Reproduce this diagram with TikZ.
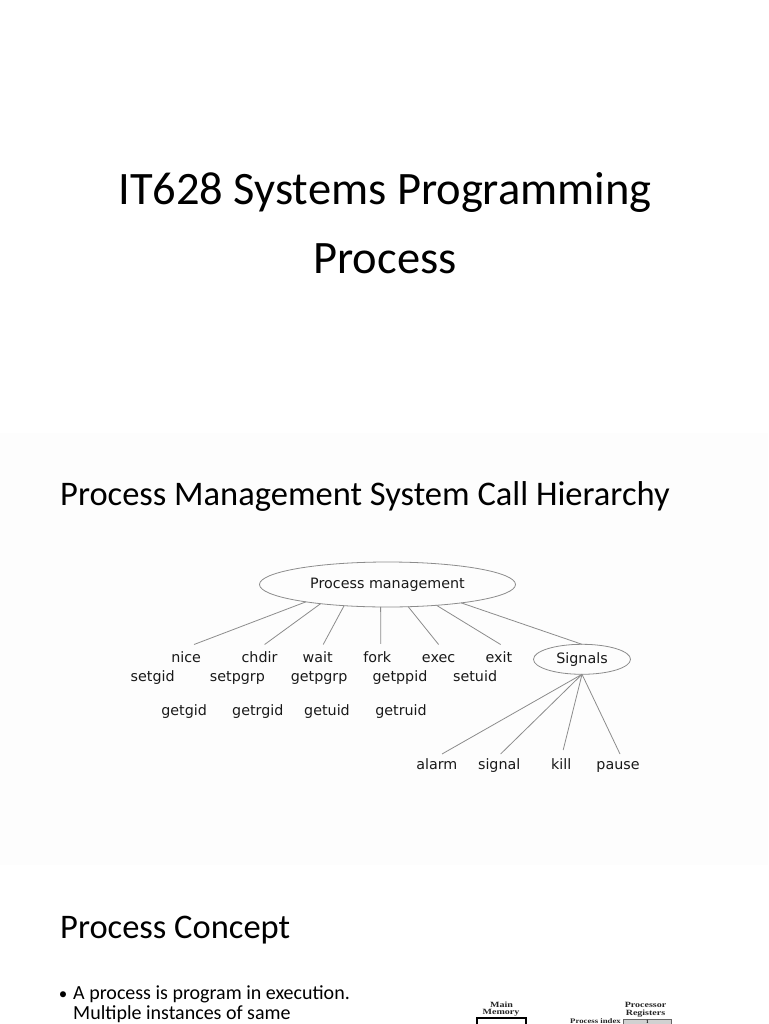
\documentclass[tikz,border=0pt]{standalone}
\usepackage{fontspec}
\setmainfont{Carlito}
\newfontfamily\dvfont{DejaVu Sans}
\newfontfamily\tmsfont{Liberation Serif}
\usetikzlibrary{shapes.geometric}
\definecolor{linegray}{RGB}{140,140,140}
\definecolor{slidebg}{RGB}{253,253,253}
\definecolor{txtdark}{RGB}{25,25,25}
\begin{document}
\begin{tikzpicture}[x=1pt,y=-1pt,
  lbl/.style={font=\dvfont\fontsize{14.3}{16}\selectfont, inner sep=0pt, anchor=base, text=txtdark},
  conn/.style={draw=linegray, line width=0.8pt},
  oval/.style={ellipse, draw=linegray, line width=0.8pt, inner sep=0pt, outer sep=0pt},
  ttl/.style={inner sep=0pt, anchor=base, text=black},
  bodytxt/.style={inner sep=0pt, anchor=base west, text=black, font=\fontsize{20}{24}\selectfont, text height=13pt, text depth=3pt},
  memlbl/.style={font=\tmsfont\bfseries\fontsize{8}{9}\selectfont, inner sep=0pt, anchor=base, text=black!85, text height=6pt, text depth=1pt}]

\useasboundingbox (0,0) rectangle (768,1024);
\fill[white] (0,0) rectangle (768,1024);
\fill[slidebg] (0,433) rectangle (768,865);

% slide 1
\node[ttl, font=\fontsize{46.5}{56}\selectfont] (title) at (385,205) {IT628 Systems Programming};
\node[ttl, font=\fontsize{46.5}{56}\selectfont] (sub) at (385,273) {Process};

% slide 2
\node[ttl, anchor=base west, font=\fontsize{34.5}{41}\selectfont] (h2) at (60,505) {Process Management System Call Hierarchy};

\node[oval, lbl, anchor=center, minimum width=256pt, minimum height=45pt] (pm) at (387.5,584.5) {Process management};
\node[oval, lbl, anchor=center, minimum width=97pt, minimum height=30pt] (sig) at (582,659.3) {Signals};

\node[lbl] (nice) at (186.1,662) {nice};
\node[lbl] (chdir) at (259.5,662) {chdir};
\node[lbl] (wait) at (317.7,662) {wait};
\node[lbl] (fork) at (377.3,662) {fork};
\node[lbl] (exec) at (438.6,662) {exec};
\node[lbl] (exit) at (498.8,662) {exit};

\node[lbl] (setgid) at (152.7,681) {setgid};
\node[lbl] (setpgrp) at (237.4,681) {setpgrp};
\node[lbl] (getpgrp) at (319.1,681) {getpgrp};
\node[lbl] (getppid) at (400,681) {getppid};
\node[lbl] (setuid) at (475.1,681) {setuid};

\node[lbl] (getgid) at (184.1,715) {getgid};
\node[lbl] (getrgid) at (257.8,715) {getrgid};
\node[lbl] (getuid) at (327,715) {getuid};
\node[lbl] (getruid) at (401,715) {getruid};

\node[lbl] (alarm) at (436.8,769) {alarm};
\node[lbl] (signal) at (499.2,769) {signal};
\node[lbl] (kill) at (561.2,769) {kill};
\node[lbl] (pause) at (618,769) {pause};

\coordinate (cnice) at (194,644.5);
\coordinate (cchdir) at (264.6,644.5);
\coordinate (cwait) at (323.2,644.5);
\coordinate (cfork) at (380.7,643.8);
\coordinate (cexec) at (438.6,644.5);
\coordinate (cexit) at (500.6,644.5);
\coordinate (calarm) at (442,754);
\coordinate (csignal) at (500.6,754);
\coordinate (ckill) at (563.2,750);
\coordinate (cpause) at (620,754);

\draw[conn] (pm.192.5) -- (cnice);
\draw[conn] (pm.196.8) -- (cchdir);
\draw[conn] (pm.206.2) -- (cwait);
\draw[conn] (pm.253.8) -- (cfork);
\draw[conn] (pm.313) -- (cexec);
\draw[conn] (pm.337.8) -- (cexit);
\draw[conn] (pm.346.8) -- (sig.north);
\draw[conn] (sig.south) -- (calarm);
\draw[conn] (sig.south) -- (csignal);
\draw[conn] (sig.south) -- (ckill);
\draw[conn] (sig.south) -- (cpause);

% slide 3
\node[ttl, anchor=base west, font=\fontsize{34.5}{41}\selectfont] (h3) at (60,938) {Process Concept};
\node[bodytxt, anchor=base, font=\fontsize{17}{20}\selectfont] (bul) at (63,999) {•};
\node[bodytxt] (b1) at (73,999.5) {A process is program in execution.};
\node[bodytxt] (b2) at (73,1019.5) {Multiple instances of same};

% small figure
\node[memlbl] (mmain) at (501.5,1007.5) {\scalebox{1.25}[1]{Main}};
\node[memlbl] (mmem) at (501,1014.5) {\scalebox{1.25}[1]{Memory}};
\node[memlbl] (proc) at (645.5,1007.5) {\scalebox{1.25}[1]{Processor}};
\node[memlbl] (regs) at (645.5,1015) {\scalebox{1.25}[1]{Registers}};
\node[memlbl, anchor=base east, font=\tmsfont\bfseries\fontsize{7}{8}\selectfont, text height=5pt] (pidx) at (621,1023) {\scalebox{1.25}[1]{Process index}};
\draw[black, line width=2pt] (477.3,1030) -- (477.3,1018.3) -- (526,1018.3) -- (526,1030);
\node[draw=black!60, fill=black!18, line width=0.6pt, inner sep=0pt, minimum width=48pt, minimum height=5pt, anchor=north west, font=\tmsfont\bfseries\fontsize{5}{5}\selectfont] (pbox) at (623,1019) {1};
\end{tikzpicture}
\end{document}
